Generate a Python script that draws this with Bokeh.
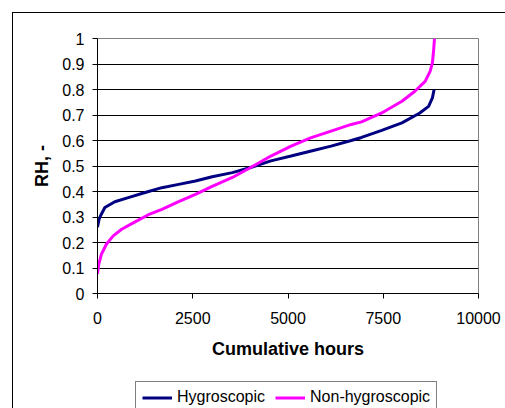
from bokeh.plotting import figure
from bokeh.layouts import column
from bokeh.models import Range1d, FixedTicker, Legend, LegendItem
from bokeh.embed import file_html
from bokeh.resources import INLINE

# Data
hygro_hours = [0, 40, 80, 193, 454, 808, 1250, 1690, 2130, 2570, 3010, 3540, 4020, 4550, 5080, 5610,
               6130, 6660, 6930, 7460, 7990, 8460, 8690, 8790, 8835]
hygro_rh = [0.26, 0.29, 0.305, 0.337, 0.36, 0.376, 0.396, 0.415, 0.428, 0.441, 0.458, 0.474, 0.494, 0.52,
            0.539, 0.559, 0.578, 0.60, 0.612, 0.64, 0.669, 0.708, 0.734, 0.767, 0.80]

nonhygro_hours = [0, 35, 105, 237, 412, 634, 985, 1336, 1690, 2130, 2570, 3010, 3540, 4020, 4550, 5080,
                  5610, 6130, 6660, 6930, 7460, 7990, 8330, 8600, 8730, 8790, 8820, 8845]
nonhygro_rh = [0.077, 0.116, 0.155, 0.194, 0.226, 0.252, 0.281, 0.309, 0.33, 0.36, 0.389, 0.42, 0.455,
               0.494, 0.539, 0.578, 0.611, 0.637, 0.663, 0.673, 0.708, 0.754, 0.793, 0.832, 0.871, 0.904,
               0.95, 1.0]

x_ticks = [0, 2500, 5000, 7500, 10000]
y_ticks = [0, 0.1, 0.2, 0.3, 0.4, 0.5, 0.6, 0.7, 0.8, 0.9, 1.0]
series_names = ["Hygroscopic", "Non-hygroscopic"]
series_colors = ["#000080", "#FF00FF"]

FONT = "Liberation Sans"

# ---- main chart ----
p = figure(width=505, height=375, output_backend="svg", toolbar_location=None,
           x_range=Range1d(0, 10000), y_range=Range1d(0, 1),
           min_border_left=97, min_border_top=38, min_border_right=27, min_border_bottom=82)
p.styles = {
    "background": "linear-gradient(#000, #000) 12px 12px / 1px 100% no-repeat, "
                  "linear-gradient(#000, #000) 12px 12px / 100% 1px no-repeat, #ffffff"
}

p.outline_line_color = "#808080"
p.outline_line_width = 1
p.background_fill_color = "white"
p.border_fill_alpha = 0

p.xgrid.visible = False
p.ygrid.ticker = FixedTicker(ticks=y_ticks)
p.ygrid.grid_line_color = "black"
p.ygrid.grid_line_width = 1

p.xaxis.ticker = FixedTicker(ticks=x_ticks)
p.yaxis.ticker = FixedTicker(ticks=y_ticks)

for ax in (p.xaxis, p.yaxis):
    ax.axis_line_color = "black"
    ax.major_tick_line_color = "black"
    ax.major_tick_out = 5
    ax.major_tick_in = 0
    ax.minor_tick_line_color = None
    ax.major_label_text_font = FONT
    ax.major_label_text_font_size = "16px"
    ax.major_label_text_color = "black"
    ax.axis_label_text_font = FONT
    ax.axis_label_text_font_style = "bold"
    ax.axis_label_text_font_size = "18px"
    ax.axis_label_text_color = "black"

p.xaxis.axis_label = "Cumulative hours"
p.yaxis.axis_label = "RH, -"
p.xaxis.major_label_standoff = 13
p.xaxis.axis_label_standoff = 12
p.yaxis.major_label_standoff = 8
p.yaxis.axis_label_standoff = 7

p.line(hygro_hours, hygro_rh, line_color=series_colors[0], line_width=3)
p.line(nonhygro_hours, nonhygro_rh, line_color=series_colors[1], line_width=3)

# ---- legend strip (same series, drawn outside its visible range; only the legend shows) ----
p2 = figure(width=505, height=33, output_backend="svg", toolbar_location=None,
            x_axis_type=None, y_axis_type=None,
            x_range=Range1d(20000, 30000), y_range=Range1d(0, 1),
            min_border_left=0, min_border_right=0, min_border_top=0, min_border_bottom=0)
p2.styles = {"background": "linear-gradient(#000, #000) 12px 0 / 1px 100% no-repeat, #ffffff"}
p2.outline_line_color = None
p2.background_fill_alpha = 0
p2.border_fill_alpha = 0
p2.grid.visible = False

l1 = p2.line(hygro_hours, hygro_rh, line_color=series_colors[0], line_width=3)
l2 = p2.line(nonhygro_hours, nonhygro_rh, line_color=series_colors[1], line_width=3)

legend = Legend(items=[LegendItem(label=series_names[0], renderers=[l1]),
                       LegendItem(label=series_names[1], renderers=[l2])],
                location=(38, -5), orientation="horizontal")
legend.label_text_font = FONT
legend.label_text_font_size = "16px"
legend.label_text_color = "black"
legend.border_line_color = "black"
legend.border_line_width = 1
legend.background_fill_color = "white"
legend.background_fill_alpha = 1
legend.glyph_width = 30
legend.glyph_height = 15
legend.label_standoff = 5
legend.spacing = 10
legend.padding = 6
legend.margin = 0
legend.label_height = 15
p2.add_layout(legend, "center")

layout = column(p, p2, spacing=0)

open("out.html", "w").write(file_html(layout, INLINE))
